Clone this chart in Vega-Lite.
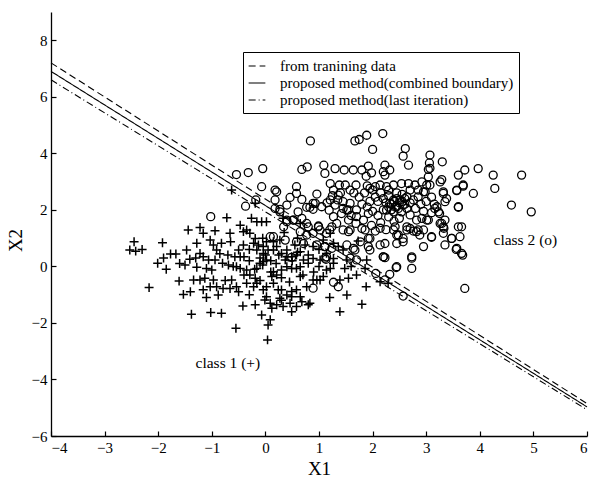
{
"$schema": "https://vega.github.io/schema/vega-lite/v6.json",
"width": 536, "height": 424,
"autosize": "none",
"padding": {"left": 51, "top": 12, "right": 5, "bottom": 44},
"config": {"view": {"stroke": null}, "font": "Liberation Serif",
 "axis": {"grid": false, "domainColor": "black", "domainWidth": 1.3, "tickColor": "black", "tickSize": -5, "tickWidth": 1.2, "labelPadding": 9, "labelFont": "Liberation Serif", "labelFontSize": 15, "labelColor": "black", "titleFont": "Liberation Serif", "titleFontSize": 19, "titleFontWeight": "normal", "titleColor": "black"}},
"datasets": {
"lines": [
 {"series": "from tranining data", "x": -4, "y": 7.2}, {"series": "from tranining data", "x": 6, "y": -4.85},
 {"series": "proposed method(combined boundary)", "x": -4, "y": 6.9}, {"series": "proposed method(combined boundary)", "x": 6, "y": -4.97},
 {"series": "proposed method(last iteration)", "x": -4, "y": 6.6}, {"series": "proposed method(last iteration)", "x": 6, "y": -5.07}
],
"plus": [
{"x":-2.45,"y":0.87},{"x":-2.53,"y":0.58},{"x":-2.42,"y":0.54},{"x":-1.92,"y":0.84},{"x":-1.77,"y":0.44},{"x":-1.67,"y":0.44},{"x":-2.01,"y":0.11},{"x":-1.85,"y":-0.10},{"x":-2.17,"y":-0.75},{"x":-1.61,"y":-0.52},{"x":-1.53,"y":-0.99},{"x":-1.38,"y":-1.69},{"x":-1.02,"y":-1.63},{"x":-0.82,"y":-1.66},{"x":-1.44,"y":1.29},{"x":-1.22,"y":1.38},{"x":-1.16,"y":1.17},{"x":-0.94,"y":1.26},{"x":-1.28,"y":0.82},{"x":-1.47,"y":0.58},{"x":-1.41,"y":0.25},{"x":-1.28,"y":-0.03},{"x":-1.50,"y":0.05},{"x":-1.03,"y":0.93},{"x":-0.97,"y":0.76},{"x":-0.91,"y":0.58},{"x":-0.82,"y":0.82},{"x":-0.66,"y":1.17},{"x":-0.65,"y":0.87},{"x":-0.72,"y":1.72},{"x":-0.63,"y":2.70},{"x":-1.22,"y":0.46},{"x":-1.16,"y":0.34},{"x":-1.10,"y":-0.07},{"x":-1.00,"y":-0.13},{"x":-1.06,"y":0.23},{"x":-0.94,"y":0.23},{"x":-0.80,"y":0.11},{"x":-0.69,"y":0.05},{"x":-1.34,"y":-0.48},{"x":-1.22,"y":-0.48},{"x":-1.13,"y":-0.42},{"x":-0.97,"y":-0.48},{"x":-0.91,"y":-0.72},{"x":-1.03,"y":-0.72},{"x":-1.16,"y":-0.83},{"x":-0.88,"y":-1.01},{"x":-0.79,"y":-0.78},{"x":-0.66,"y":-0.78},{"x":-0.54,"y":-0.72},{"x":-0.63,"y":-0.48},{"x":-0.54,"y":-0.01},{"x":-0.47,"y":-0.07},{"x":-0.57,"y":0.34},{"x":-0.47,"y":0.34},{"x":-0.40,"y":0.34},{"x":-0.35,"y":-0.13},{"x":-0.29,"y":-0.30},{"x":-0.19,"y":-0.42},{"x":-0.16,"y":-0.07},{"x":-0.10,"y":0.11},{"x":-0.04,"y":0.17},{"x":0.02,"y":0.23},{"x":-0.04,"y":0.46},{"x":-0.16,"y":0.58},{"x":-0.22,"y":0.82},{"x":-0.29,"y":1.17},{"x":-0.35,"y":1.29},{"x":-0.26,"y":1.70},{"x":-0.16,"y":1.58},{"x":-0.07,"y":1.58},{"x":0.02,"y":1.58},{"x":-0.47,"y":1.46},{"x":-0.41,"y":1.23},{"x":-0.19,"y":0.99},{"x":-0.13,"y":0.76},{"x":-0.41,"y":0.76},{"x":-0.50,"y":0.58},{"x":-0.35,"y":-0.60},{"x":-0.22,"y":-0.72},{"x":-0.16,"y":-0.60},{"x":-0.04,"y":-0.83},{"x":0.02,"y":-0.72},{"x":0.15,"y":-0.60},{"x":0.24,"y":-0.83},{"x":0.30,"y":-0.83},{"x":0.02,"y":-1.07},{"x":-0.01,"y":-1.19},{"x":0.09,"y":-1.30},{"x":0.12,"y":-1.48},{"x":0.09,"y":-1.89},{"x":-0.07,"y":-1.72},{"x":-0.19,"y":-1.36},{"x":-0.42,"y":-1.40},{"x":-0.55,"y":-2.19},{"x":0.05,"y":-2.07},{"x":0.04,"y":-2.60},{"x":0.27,"y":-1.13},{"x":0.40,"y":-1.01},{"x":0.49,"y":-0.89},{"x":0.58,"y":-0.83},{"x":0.49,"y":-1.07},{"x":0.46,"y":-1.30},{"x":0.65,"y":-1.07},{"x":0.68,"y":-1.25},{"x":0.58,"y":-1.42},{"x":0.49,"y":-1.60},{"x":0.33,"y":-1.42},{"x":0.21,"y":-1.36},{"x":0.65,"y":-0.36},{"x":0.77,"y":-0.72},{"x":0.80,"y":-1.36},{"x":0.83,"y":-1.30},{"x":0.89,"y":-0.48},{"x":0.96,"y":-0.48},{"x":1.02,"y":-0.48},{"x":1.08,"y":-0.36},{"x":1.14,"y":-0.13},{"x":1.21,"y":-0.07},{"x":1.27,"y":0.11},{"x":1.39,"y":-0.48},{"x":1.39,"y":-1.60},{"x":1.52,"y":-1.01},{"x":1.55,"y":-0.42},{"x":1.48,"y":-0.07},{"x":1.27,"y":0.28},{"x":1.14,"y":0.46},{"x":1.02,"y":0.23},{"x":0.89,"y":0.28},{"x":0.80,"y":0.11},{"x":0.71,"y":0.23},{"x":0.65,"y":-0.01},{"x":0.58,"y":-0.07},{"x":0.49,"y":-0.07},{"x":0.40,"y":-0.01},{"x":0.30,"y":-0.13},{"x":0.21,"y":-0.30},{"x":0.15,"y":-0.19},{"x":0.12,"y":-0.36},{"x":0.37,"y":0.23},{"x":0.40,"y":0.34},{"x":0.49,"y":0.34},{"x":0.58,"y":0.40},{"x":0.65,"y":0.52},{"x":0.74,"y":0.76},{"x":0.55,"y":0.76},{"x":0.40,"y":0.58},{"x":0.30,"y":0.46},{"x":0.21,"y":0.70},{"x":0.15,"y":0.58},{"x":0.05,"y":0.58},{"x":-0.04,"y":0.70},{"x":0.02,"y":0.87},{"x":0.15,"y":0.87},{"x":0.27,"y":0.93},{"x":0.89,"y":0.70},{"x":1.08,"y":0.93},{"x":1.21,"y":1.17},{"x":1.27,"y":0.82},{"x":1.36,"y":0.70},{"x":1.45,"y":0.58},{"x":1.52,"y":0.23},
{"x":1.88,"y":-0.72},{"x":1.80,"y":-1.34},{"x":1.73,"y":0.90},{"x":1.89,"y":0.23},{"x":2.14,"y":-0.54},{"x":2.29,"y":-0.60},{"x":1.86,"y":-0.07},{"x":-0.19,"y":2.23},{"x":0.33,"y":1.70},{"x":0.65,"y":1.52},
{"x":-0.1,"y":0.3},{"x":0.0,"y":0.4},{"x":0.1,"y":0.2},{"x":-0.05,"y":0.05},{"x":0.2,"y":0.1},{"x":0.25,"y":0.4},{"x":-0.3,"y":0.2},{"x":-0.2,"y":-0.1},{"x":0.1,"y":-0.2},{"x":0.3,"y":-0.4},{"x":-0.4,"y":-0.3},{"x":-0.6,"y":0.0},{"x":-0.7,"y":0.4},{"x":-0.85,"y":0.45},{"x":-0.3,"y":0.6},{"x":0.5,"y":0.2},{"x":0.6,"y":0.5},{"x":0.8,"y":0.4},{"x":1.0,"y":0.0},{"x":0.9,"y":-0.2},{"x":0.7,"y":-0.3},{"x":0.45,"y":-0.55},{"x":-0.1,"y":-0.5},{"x":-0.5,"y":-0.9},{"x":-0.75,"y":-0.5},{"x":-1.3,"y":0.3},{"x":-1.6,"y":0.1},{"x":-1.9,"y":0.3},{"x":-2.3,"y":0.6},{"x":-1.4,"y":-0.9},{"x":-1.1,"y":-1.1},{"x":-0.3,"y":-1.0},{"x":0.3,"y":-1.2},{"x":1.2,"y":-1.1},{"x":1.6,"y":0.0},{"x":1.7,"y":-0.3},{"x":1.0,"y":0.6},{"x":-0.05,"y":1.0},{"x":0.35,"y":1.2},{"x":0.6,"y":1.0}
],
"circ": [
{"x":0.84,"y":4.44},{"x":1.67,"y":4.44},{"x":1.75,"y":4.49},{"x":1.89,"y":4.64},{"x":2.19,"y":4.70},{"x":2.00,"y":4.14},{"x":2.61,"y":4.17},{"x":2.57,"y":3.90},{"x":3.07,"y":3.94},{"x":3.06,"y":3.66},{"x":3.04,"y":3.43},{"x":3.30,"y":3.70},{"x":2.67,"y":3.58},{"x":2.23,"y":3.58},{"x":2.20,"y":3.35},{"x":2.23,"y":3.23},{"x":2.32,"y":3.41},{"x":1.92,"y":3.55},{"x":1.80,"y":3.41},{"x":1.98,"y":3.31},{"x":1.88,"y":3.19},{"x":1.09,"y":3.58},{"x":1.11,"y":3.29},{"x":1.30,"y":3.46},{"x":1.47,"y":3.41},{"x":1.64,"y":3.41},{"x":0.68,"y":3.43},{"x":0.78,"y":3.52},{"x":-0.05,"y":3.46},{"x":-0.07,"y":2.82},{"x":0.18,"y":2.70},{"x":0.21,"y":2.64},{"x":0.58,"y":2.82},{"x":0.58,"y":2.58},{"x":0.46,"y":2.44},{"x":0.68,"y":2.37},{"x":0.18,"y":2.35},{"x":0.27,"y":2.02},{"x":0.40,"y":2.17},{"x":0.96,"y":2.56},{"x":0.89,"y":2.23},{"x":0.83,"y":2.09},{"x":1.05,"y":2.11},
{"x":1.21,"y":2.93},{"x":1.27,"y":2.70},{"x":1.38,"y":2.88},{"x":1.49,"y":2.88},{"x":1.58,"y":2.70},{"x":1.69,"y":2.88},{"x":1.36,"y":2.52},{"x":1.21,"y":2.35},{"x":1.30,"y":2.17},{"x":1.45,"y":2.29},{"x":1.58,"y":2.23},{"x":1.52,"y":1.99},{"x":1.42,"y":1.87},{"x":1.27,"y":1.76},{"x":1.19,"y":1.99},{"x":1.33,"y":1.52},{"x":1.55,"y":1.64},{"x":1.70,"y":1.76},{"x":1.69,"y":1.52},{"x":1.83,"y":1.64},{"x":1.92,"y":1.87},{"x":1.80,"y":1.34},{"x":1.58,"y":1.29},{"x":1.45,"y":1.29},{"x":1.24,"y":1.40},{"x":1.14,"y":1.17},{"x":1.02,"y":1.29},{"x":0.89,"y":1.17},{"x":0.80,"y":1.40},{"x":0.65,"y":1.23},{"x":0.52,"y":1.64},{"x":0.40,"y":1.64},{"x":0.34,"y":1.40},{"x":0.09,"y":1.05},{"x":0.37,"y":0.93},{"x":0.58,"y":0.87},{"x":0.71,"y":0.81},{"x":1.11,"y":0.70},{"x":1.24,"y":0.64},{"x":1.14,"y":0.34},{"x":0.96,"y":0.76},{"x":1.64,"y":0.64},{"x":1.52,"y":0.76},{"x":1.95,"y":0.58},{"x":1.77,"y":0.87},{"x":1.92,"y":0.99},
{"x":1.95,"y":2.76},{"x":2.05,"y":2.82},{"x":2.14,"y":2.88},{"x":2.26,"y":2.82},{"x":2.39,"y":2.88},{"x":2.54,"y":2.93},{"x":2.67,"y":2.93},{"x":2.79,"y":2.88},{"x":2.92,"y":2.99},{"x":3.04,"y":3.17},{"x":3.07,"y":2.88},{"x":2.98,"y":2.64},{"x":2.85,"y":2.46},{"x":2.76,"y":2.35},{"x":2.64,"y":2.46},{"x":2.51,"y":2.35},{"x":2.39,"y":2.35},{"x":2.32,"y":2.23},{"x":2.45,"y":2.11},{"x":2.57,"y":2.17},{"x":2.26,"y":1.99},{"x":2.39,"y":1.93},{"x":2.54,"y":1.93},{"x":2.64,"y":2.05},{"x":2.70,"y":1.82},{"x":2.82,"y":1.64},{"x":2.92,"y":1.70},{"x":3.04,"y":1.64},{"x":2.64,"y":1.40},{"x":2.70,"y":1.34},{"x":2.82,"y":1.23},{"x":2.95,"y":1.29},{"x":2.88,"y":1.11},{"x":2.45,"y":1.11},{"x":2.39,"y":1.29},{"x":2.57,"y":0.99},{"x":2.45,"y":0.81},{"x":2.23,"y":0.81},{"x":2.20,"y":0.34},{"x":2.14,"y":0.76},{"x":2.73,"y":0.34},{"x":2.45,"y":-0.01},{"x":2.73,"y":-0.07},{"x":2.95,"y":0.70},{"x":3.10,"y":1.05},{"x":3.20,"y":2.11},{"x":3.25,"y":1.87},{"x":3.32,"y":2.64},{"x":3.38,"y":2.40},{"x":3.35,"y":1.64},{"x":3.32,"y":1.40},{"x":3.26,"y":1.52},{"x":3.48,"y":0.99},{"x":3.57,"y":0.64},{"x":3.66,"y":0.46},{"x":3.63,"y":1.05},{"x":3.60,"y":1.40},{"x":3.60,"y":2.11},{"x":3.69,"y":2.88},{"x":3.57,"y":2.70},{"x":3.88,"y":2.58},{"x":3.60,"y":3.23},{"x":3.72,"y":3.41},{"x":3.97,"y":3.46},{"x":4.25,"y":3.23},{"x":4.28,"y":2.76},{"x":4.78,"y":3.23},{"x":4.59,"y":2.17},{"x":4.96,"y":1.93},{"x":3.72,"y":-0.78},{"x":2.57,"y":-1.05},{"x":2.23,"y":-0.48},{"x":2.06,"y":-0.25},{"x":3.26,"y":2.99},{"x":3.29,"y":3.07},
{"x":2.32,"y":-0.28},{"x":2.44,"y":-0.04},{"x":2.73,"y":0.29},{"x":2.20,"y":0.34},{"x":2.23,"y":0.31},{"x":1.95,"y":0.99},{"x":1.92,"y":0.70},{"x":1.86,"y":1.29},{"x":1.67,"y":0.58},{"x":1.70,"y":0.23},{"x":1.58,"y":0.29},{"x":1.36,"y":-0.72},{"x":1.27,"y":-0.56},{"x":0.89,"y":-0.77},{"x":1.11,"y":0.29},{"x":1.20,"y":1.29},{"x":0.99,"y":1.40},{"x":0.77,"y":1.11},{"x":0.15,"y":1.05},{"x":1.11,"y":0.70},{"x":1.55,"y":1.23},{"x":2.14,"y":1.35},{"x":2.42,"y":1.40},{"x":2.48,"y":1.11},{"x":2.64,"y":1.29},{"x":2.76,"y":1.25},{"x":2.85,"y":1.29},{"x":2.57,"y":0.87},{"x":0.49,"y":0.32},
{"x":-0.54,"y":3.25},{"x":-0.32,"y":3.32},{"x":-0.37,"y":2.13},{"x":-0.18,"y":2.35},{"x":-1.02,"y":1.76},{"x":0.18,"y":2.05},{"x":0.27,"y":1.93},{"x":0.93,"y":2.23},{"x":0.77,"y":2.09},{"x":0.89,"y":2.02},{"x":0.61,"y":1.93},{"x":0.68,"y":1.70},{"x":0.40,"y":1.58},{"x":0.52,"y":1.64},{"x":0.99,"y":1.43},{"x":0.77,"y":1.52},{"x":1.13,"y":0.25},
{"x":3.69,"y":2.84},{"x":3.57,"y":2.68},{"x":3.60,"y":2.09},{"x":3.66,"y":1.40},{"x":3.68,"y":0.40},{"x":3.56,"y":0.60},{"x":3.47,"y":0.99},{"x":3.35,"y":0.76},{"x":3.10,"y":1.03},{"x":3.29,"y":1.52},{"x":3.33,"y":1.35},{"x":3.32,"y":1.17},{"x":3.16,"y":2.05},{"x":3.23,"y":1.93},{"x":3.01,"y":1.64},{"x":3.32,"y":2.58},{"x":3.35,"y":2.29},{"x":3.01,"y":2.88},{"x":2.95,"y":2.64},{"x":3.07,"y":3.47},
{"x":2.1,"y":2.3},{"x":2.2,"y":2.4},{"x":2.3,"y":2.5},{"x":2.35,"y":2.2},{"x":2.4,"y":2.3},{"x":2.45,"y":2.4},{"x":2.5,"y":2.25},{"x":2.55,"y":2.3},{"x":2.6,"y":2.2},{"x":2.3,"y":2.1},{"x":2.2,"y":2.0},{"x":2.25,"y":2.25},{"x":2.42,"y":2.1},{"x":2.48,"y":2.05},{"x":2.35,"y":2.0},{"x":2.6,"y":2.4},{"x":2.7,"y":2.25},{"x":2.15,"y":2.6},{"x":2.05,"y":2.45},{"x":1.95,"y":2.3},{"x":1.85,"y":2.6},{"x":1.75,"y":2.45},{"x":1.65,"y":2.6},{"x":1.8,"y":2.2},{"x":1.7,"y":2.0},{"x":1.9,"y":2.1},{"x":2.0,"y":1.95},{"x":2.1,"y":1.8},{"x":2.5,"y":1.7},{"x":2.4,"y":1.6},{"x":2.3,"y":1.75},{"x":2.15,"y":1.55},{"x":1.98,"y":1.45},{"x":2.05,"y":1.25},{"x":2.25,"y":1.3},{"x":2.0,"y":2.7},{"x":1.9,"y":2.85},{"x":2.3,"y":2.7},{"x":2.45,"y":2.6},{"x":2.55,"y":2.55},{"x":2.8,"y":2.05},{"x":2.9,"y":2.2},{"x":3.0,"y":2.3},{"x":3.1,"y":2.45},{"x":3.15,"y":2.2},{"x":3.1,"y":1.9},{"x":2.95,"y":1.95},{"x":2.85,"y":2.7},{"x":2.7,"y":2.7},{"x":1.55,"y":2.0},{"x":1.45,"y":2.05},{"x":1.6,"y":1.8},{"x":1.4,"y":2.6},{"x":1.25,"y":2.5},{"x":1.15,"y":2.25},{"x":1.35,"y":2.35}
],
"labels": [{"x": -0.7, "y": -3.4, "label": "class 1 (+)"}, {"x": 4.85, "y": 0.93, "label": "class 2 (o)"}]
},
"encoding": {
 "x": {"field": "x", "type": "quantitative", "scale": {"domain": [-4, 6], "nice": false, "zero": false}, "axis": {"title": "X1", "values": [-4,-3,-2,-1,0,1,2,3,4,5,6], "titlePadding": 4}},
 "y": {"field": "y", "type": "quantitative", "scale": {"domain": [-6, 9], "nice": false, "zero": false}, "axis": {"title": "X2", "values": [-6,-4,-2,0,2,4,6,8], "titlePadding": 6, "titleY": 228}}
},
"layer": [
 {"data": {"name": "plus"}, "mark": {"type": "point", "shape": "M-1,0L1,0M0,-1L0,1", "size": 80, "color": "black", "strokeWidth": 1.5, "filled": false, "opacity": 1}},
 {"data": {"name": "circ"}, "mark": {"type": "point", "shape": "circle", "size": 64, "color": "black", "strokeWidth": 1.3, "filled": false, "opacity": 1}},
 {"data": {"name": "lines"}, "mark": {"type": "line", "color": "black", "strokeWidth": 1.1},
  "encoding": {"strokeDash": {"field": "series", "type": "nominal",
   "scale": {"domain": ["from tranining data", "proposed method(combined boundary)", "proposed method(last iteration)"], "range": [[7, 4], [1, 0], [7, 3, 1, 3]]},
   "legend": {"title": null, "orient": "none", "legendX": 192, "legendY": 40, "symbolType": "stroke", "symbolStrokeColor": "black", "symbolSize": 280, "symbolStrokeWidth": 1.2, "labelFont": "Liberation Serif", "labelFontSize": 15, "labelColor": "black", "labelOffset": 14, "rowPadding": 0, "strokeColor": "black", "fillColor": "white", "padding": 5, "labelLimit": 400}}}},
 {"data": {"name": "labels"}, "mark": {"type": "text", "font": "Liberation Serif", "fontSize": 15.5, "color": "black"}, "encoding": {"text": {"field": "label"}}}
]
}
